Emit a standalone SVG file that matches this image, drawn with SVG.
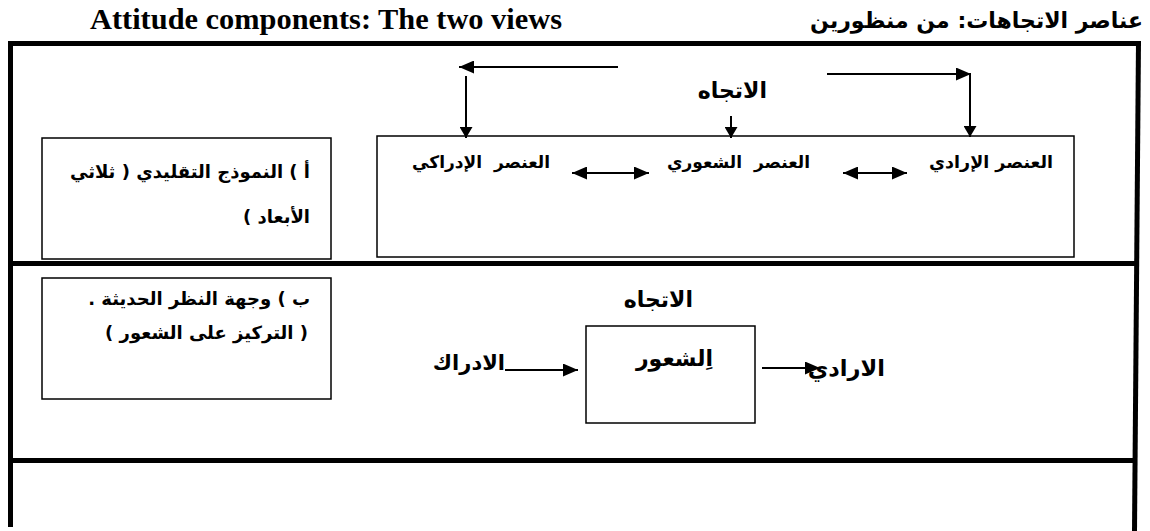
<svg xmlns="http://www.w3.org/2000/svg" width="1150" height="531" viewBox="0 0 1150 531">
  <style>
    .frame { stroke: #000; stroke-width: 5; fill: none; }
    .box { stroke: #000; stroke-width: 1.5; fill: #fff; }
    .conn { stroke: #000; stroke-width: 2; fill: none; }
    .ar { font-family: "DejaVu Sans", "Noto Sans", sans-serif; font-weight: bold; fill: #000; direction: rtl; text-anchor: start; }
    .en { font-family: "Liberation Serif", "Times New Roman", serif; font-weight: bold; fill: #000; }
  </style>
  <defs>
    <marker id="head" viewBox="0 0 15 13" refX="15" refY="6.5" markerWidth="15" markerHeight="13" markerUnits="userSpaceOnUse" orient="auto-start-reverse">
      <path d="M0,0 L15,6.5 L0,13 z" fill="#000"/>
    </marker>
    <marker id="headSmall" viewBox="0 0 13 12" refX="11" refY="6.5" markerWidth="13" markerHeight="13" markerUnits="userSpaceOnUse" orient="auto">
      <path d="M0,0 L11,6.5 L0,13 z" fill="#000"/>
    </marker>
  </defs>

  <rect width="1150" height="531" fill="#fff"/>

  <!-- titles -->
  <text class="en" x="90" y="29" font-size="29" textLength="472" lengthAdjust="spacingAndGlyphs">Attitude components: The two views</text>
  <text class="ar" x="1143" y="28" font-size="22">عناصر الاتجاهات: من منظورين</text>

  <!-- outer frame and row dividers -->
  <g id="frame">
    <line class="frame" x1="8" y1="43.5" x2="1141" y2="43.5"/>
    <line class="frame" x1="10.5" y1="41" x2="10.5" y2="527"/>
    <line class="frame" x1="1138.5" y1="41" x2="1134.5" y2="531"/>
    <line class="frame" x1="10" y1="263.5" x2="1137" y2="263.5"/>
    <line class="frame" x1="10" y1="460.5" x2="1135" y2="460.5"/>
  </g>

  <!-- row a: traditional three-component model -->
  <g id="label-a">
    <rect class="box" x="42" y="138" width="289" height="121"/>
    <text class="ar" x="310" y="178" font-size="18">أ ) النموذج التقليدي ( ثلاثي</text>
    <text class="ar" x="310" y="223" font-size="18">الأبعاد )</text>
  </g>
  <g id="components-box">
    <rect class="box" x="377" y="136" width="697" height="121"/>
  </g>
  <g id="attitude-top">
    <text class="ar" x="767" y="98" font-size="22">الاتجاه</text>
  </g>
  <g id="cognitive">
    <text class="ar" x="550" y="168" font-size="17" word-spacing="6">العنصر الإدراكي</text>
  </g>
  <g id="affective">
    <text class="ar" x="810" y="168" font-size="17" word-spacing="6">العنصر الشعوري</text>
  </g>
  <g id="conative">
    <text class="ar" x="1053" y="168" font-size="17.5">العنصر الإرادي</text>
  </g>

  <!-- row b: modern view -->
  <g id="label-b">
    <rect class="box" x="42" y="278" width="289" height="121"/>
    <text class="ar" x="310" y="305" font-size="18">ب ) وجهة النظر الحديثة .</text>
    <text class="ar" x="308" y="339" font-size="18">( التركيز على الشعور )</text>
  </g>
  <g id="attitude-bottom">
    <text class="ar" x="693" y="307" font-size="22">الاتجاه</text>
  </g>
  <g id="affect">
    <rect class="box" x="586" y="326" width="169" height="97"/>
    <text class="ar" x="713" y="366" font-size="22">اِلشعور</text>
  </g>
  <g id="cognition">
    <text class="ar" x="505" y="370" font-size="21">الادراك</text>
  </g>
  <g id="conation">
    <text class="ar" x="885" y="376" font-size="22.5">الارادي</text>
  </g>

  <!-- connectors -->
  <g id="connectors">
    <line class="conn" x1="618" y1="67" x2="459" y2="67" marker-end="url(#head)"/>
    <line class="conn" x1="466" y1="76" x2="466" y2="138" marker-end="url(#headSmall)"/>
    <line class="conn" x1="827" y1="74" x2="971" y2="74" marker-end="url(#head)"/>
    <line class="conn" x1="970" y1="75" x2="970" y2="137" marker-end="url(#headSmall)"/>
    <line class="conn" x1="731" y1="116" x2="731" y2="138" marker-end="url(#headSmall)"/>
    <line class="conn" x1="572" y1="173" x2="649" y2="173" marker-start="url(#head)" marker-end="url(#head)"/>
    <line class="conn" x1="843" y1="173" x2="907" y2="173" marker-start="url(#head)" marker-end="url(#head)"/>
    <line class="conn" x1="505" y1="370" x2="578" y2="370" marker-end="url(#head)"/>
    <line class="conn" x1="762" y1="368" x2="820" y2="368" marker-end="url(#head)"/>
  </g>
</svg>
